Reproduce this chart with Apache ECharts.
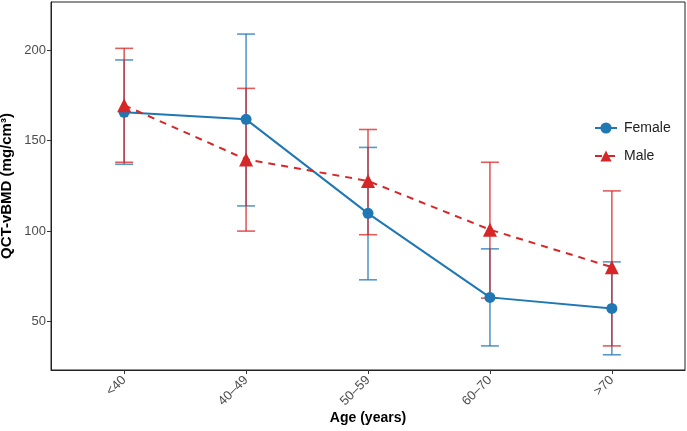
<!DOCTYPE html>
<html>
<head>
<meta charset="utf-8">
<script src="https://cdn.jsdelivr.net/npm/echarts@6/dist/echarts.min.js"></script>
<style>
  html, body { margin: 0; padding: 0; background: #fff; }
  #chart { width: 687px; height: 431px; }
</style>
</head>
<body>
<div id="chart"></div>
<script>
// 年龄分组
const categories = ["<40", "40\u201349", "50\u201359", "60\u201370", ">70"];
const yTicks = [50, 100, 150, 200];

// 女性：均值与误差上下限
const femaleMean = [165.6, 161.7, 109.8, 63.4, 57.3];
const femaleUpper = [194.5, 208.8, 146.2, 90.2, 83.0];
const femaleLower = [136.9, 113.9, 73.1, 36.6, 31.7];

// 男性：均值与误差上下限
const maleMean = [169.5, 139.6, 127.7, 100.8, 80.1];
const maleUpper = [200.9, 178.8, 156.1, 138.0, 122.2];
const maleLower = [138.0, 100.0, 98.0, 63.0, 36.6];

const blue = "#1f77b4";
const red = "#d62728";

const chart = echarts.init(document.getElementById("chart"));

function errData(lower, upper) {
  return categories.map((c, i) => [i, lower[i], upper[i]]);
}

// 误差线：竖线 + 上下横帽
function errRender(color) {
  return function (params, api) {
    const x = api.value(0);
    const lo = api.coord([x, api.value(1)]);
    const hi = api.coord([x, api.value(2)]);
    const hw = 9;
    const style = { stroke: color, lineWidth: 1.6, opacity: 0.75 };
    return {
      type: "group",
      children: [
        { type: "line", shape: { x1: lo[0], y1: lo[1], x2: hi[0], y2: hi[1] }, style: style },
        { type: "line", shape: { x1: lo[0] - hw, y1: lo[1], x2: lo[0] + hw, y2: lo[1] }, style: style },
        { type: "line", shape: { x1: hi[0] - hw, y1: hi[1], x2: hi[0] + hw, y2: hi[1] }, style: style }
      ]
    };
  };
}

const option = {
  animation: false,
  grid: {
    left: 51,
    right: 2,
    top: 2,
    bottom: 61,
    containLabel: false,
    outerBoundsMode: "none",
    show: true,
    borderColor: "#222",
    borderWidth: 1
  },
  legend: {
    orient: "vertical",
    left: 589,
    top: 116,
    itemWidth: 22,
    itemHeight: 14,
    itemGap: 14,
    textStyle: { fontFamily: "Liberation Sans", fontSize: 14, color: "#222", padding: [0, 0, 0, 2] },
    data: ["Female", "Male"]
  },
  xAxis: {
    type: "value",
    min: -0.6,
    max: 4.6,
    name: "Age (years)",
    nameLocation: "middle",
    nameGap: 41,
    nameMoveOverlap: false,
    nameTextStyle: { fontFamily: "Liberation Sans", fontSize: 14, fontWeight: "bold", color: "#000" },
    axisLine: { show: true, onZero: false, lineStyle: { color: "#222", width: 1 } },
    axisTick: { show: true, length: 4, customValues: [0, 1, 2, 3, 4], lineStyle: { color: "#333" } },
    axisLabel: {
      customValues: [0, 1, 2, 3, 4],
      formatter: (v) => categories[Math.round(v)],
      rotate: 45,
      margin: 8,
      fontFamily: "Liberation Sans",
      fontSize: 13,
      color: "#4d4d4d"
    },
    splitLine: { show: false }
  },
  yAxis: {
    type: "value",
    min: 23.3,
    max: 226.5,
    name: "QCT-vBMD (mg/cm\u00b3)",
    nameLocation: "middle",
    nameGap: 37,
    nameMoveOverlap: false,
    nameTextStyle: { fontFamily: "Liberation Sans", fontSize: 15, fontWeight: "bold", color: "#000" },
    axisLine: { show: true, onZero: false, lineStyle: { color: "#222", width: 1 } },
    axisTick: { show: true, length: 4, customValues: yTicks, lineStyle: { color: "#333" } },
    axisLabel: {
      customValues: yTicks,
      margin: 5,
      fontFamily: "Liberation Sans",
      fontSize: 13,
      color: "#4d4d4d"
    },
    splitLine: { show: false }
  },
  series: [
    {
      type: "custom",
      name: "femaleErr",
      renderItem: errRender(blue),
      data: errData(femaleLower, femaleUpper),
      z: 1,
      silent: true
    },
    {
      type: "custom",
      name: "maleErr",
      renderItem: errRender(red),
      data: errData(maleLower, maleUpper),
      z: 1,
      silent: true
    },
    {
      name: "Female",
      type: "line",
      data: femaleMean.map((v, i) => [i, v]),
      symbol: "circle",
      symbolSize: 11,
      itemStyle: { color: blue },
      lineStyle: { color: blue, width: 2 },
      z: 3
    },
    {
      name: "Male",
      type: "line",
      data: maleMean.map((v, i) => [i, v]),
      symbol: "triangle",
      symbolSize: 14,
      itemStyle: { color: red },
      lineStyle: { color: red, width: 2, type: [7, 6] },
      z: 4
    }
  ]
};

chart.setOption(option);
</script>
</body>
</html>
